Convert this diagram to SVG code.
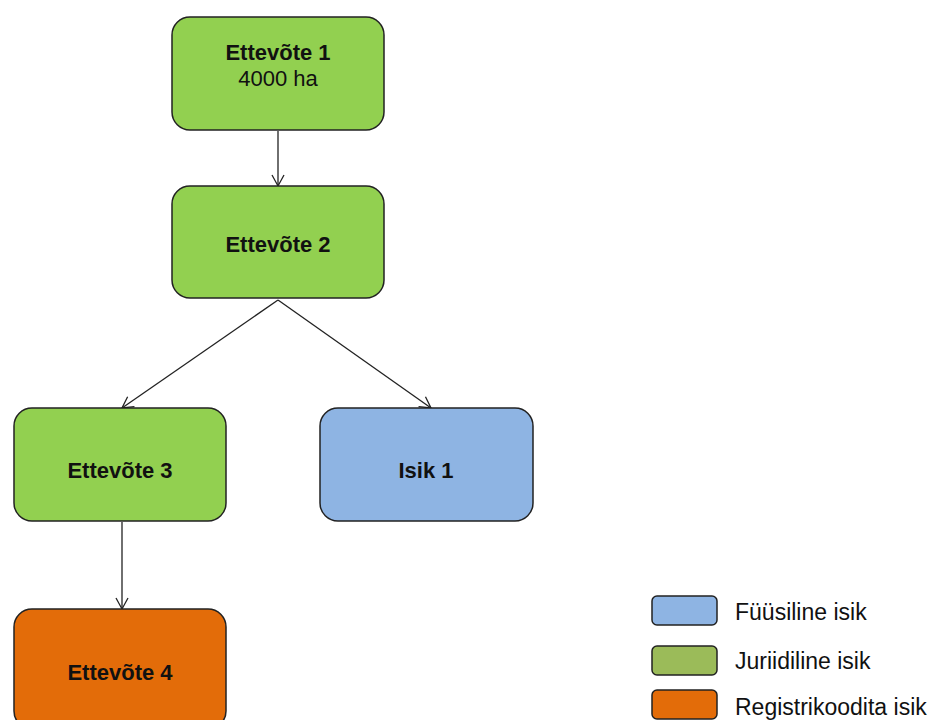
<svg xmlns="http://www.w3.org/2000/svg" width="933" height="720" viewBox="0 0 933 720">
<style>
.box{stroke:#222;stroke-width:1.5}
.g{fill:#92D050}
.b{fill:#8EB4E3}
.o{fill:#E36C09}
.lg{fill:#9BBB59}
.t{font-family:"Liberation Sans",Arial,sans-serif;font-size:22px;fill:#111;text-anchor:middle}
.bold{font-weight:bold}
.leg{font-family:"Liberation Sans",Arial,sans-serif;font-size:23px;fill:#111}
.c{stroke:#222;stroke-width:1.3;fill:none;marker-end:url(#ah)}
</style>
<defs>
<marker id="ah" markerWidth="14" markerHeight="14" refX="12" refY="7" orient="auto" markerUnits="userSpaceOnUse">
<path d="M1,1 L12,7 L1,13" fill="none" stroke="#222" stroke-width="1.3"/>
</marker>
</defs>
<rect width="933" height="720" fill="#fff"/>
<g id="connectors">
<line class="c" x1="278" y1="131" x2="278" y2="186"/>
<line class="c" x1="278" y1="300" x2="122" y2="408"/>
<line class="c" x1="278" y1="300" x2="431" y2="408"/>
<line class="c" x1="122" y1="522" x2="122" y2="609"/>
</g>
<g id="node1">
<rect class="box g" x="172" y="17" width="212" height="113" rx="18"/>
<text class="t bold" x="278" y="60">Ettevõte 1</text>
<text class="t" x="278" y="86">4000  ha</text>
</g>
<g id="node2">
<rect class="box g" x="172" y="186" width="212" height="112" rx="18"/>
<text class="t bold" x="278" y="252">Ettevõte 2</text>
</g>
<g id="node3">
<rect class="box g" x="14" y="408" width="212" height="113" rx="18"/>
<text class="t bold" x="120" y="478">Ettevõte 3</text>
</g>
<g id="isik1">
<rect class="box b" x="320" y="408" width="213" height="113" rx="18"/>
<text class="t bold" x="426" y="478">Isik 1</text>
</g>
<g id="node4">
<rect class="box o" x="14" y="609" width="212" height="120" rx="18"/>
<text class="t bold" x="120" y="680">Ettevõte 4</text>
</g>
<g id="legend">
<rect class="box b" x="652" y="596" width="65" height="29" rx="5"/>
<text class="leg" x="735" y="620">Füüsiline isik</text>
<rect class="box lg" x="652" y="646" width="65" height="29" rx="5"/>
<text class="leg" x="735" y="669">Juriidiline isik</text>
<rect class="box o" x="652" y="690" width="65" height="29" rx="5"/>
<text class="leg" x="735" y="715">Registrikoodita isik</text>
</g>
</svg>
